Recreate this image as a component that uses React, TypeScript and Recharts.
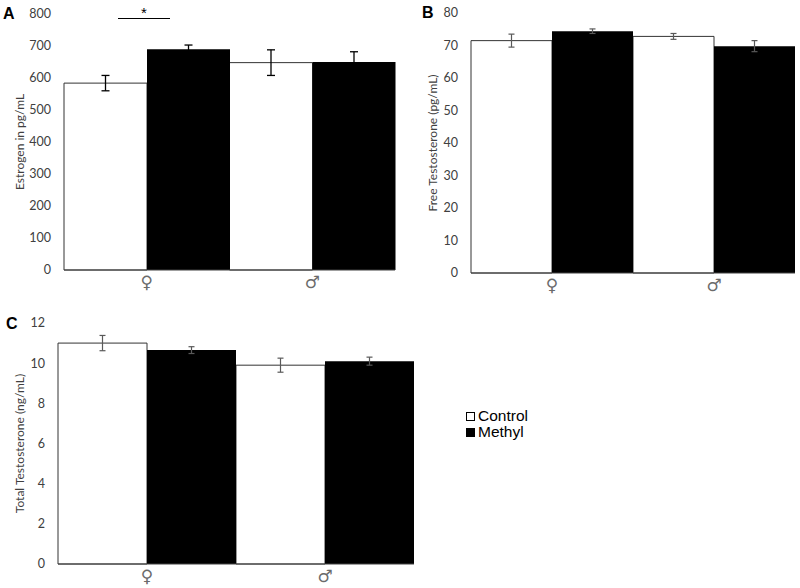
import { BarChart, Bar, XAxis, YAxis, ErrorBar, Legend } from 'recharts'

const sexes = ['♀', '♂']

const estrogenControl = [584, 648]
const estrogenControlErr = [24, 40]
const estrogenMethyl = [690, 650]
const estrogenMethylErr = [13, 32]
const estrogenTicks = [0, 100, 200, 300, 400, 500, 600, 700, 800]

const freeControl = [71.5, 72.8]
const freeControlErr = [2.0, 0.9]
const freeMethyl = [74.4, 69.8]
const freeMethylErr = [0.7, 1.7]
const freeTicks = [0, 10, 20, 30, 40, 50, 60, 70, 80]

const totalControl = [11.0, 9.9]
const totalControlErr = [0.38, 0.35]
const totalMethyl = [10.65, 10.1]
const totalMethylErr = [0.17, 0.2]
const totalTicks = [0, 2, 4, 6, 8, 10, 12]

const rows = (c: number[], ce: number[], m: number[], me: number[]) =>
  sexes.map((sex, i) => ({ sex, control: c[i], controlErr: ce[i], methyl: m[i], methylErr: me[i] }))

const estrogenData = rows(estrogenControl, estrogenControlErr, estrogenMethyl, estrogenMethylErr)
const freeData = rows(freeControl, freeControlErr, freeMethyl, freeMethylErr)
const totalData = rows(totalControl, totalControlErr, totalMethyl, totalMethylErr)

const yTick = { fontSize: 12.5, fill: '#404040', fontFamily: 'Lato' }
const xTick = { fontSize: 17, fill: '#6b6b6b', fontFamily: 'DejaVu Sans' }
const axisTitle = { fontSize: 12, fill: '#404040', fontFamily: 'Lato', textAnchor: 'middle' as const }

const panelLetter = (left: number, top: number): React.CSSProperties => ({
  position: 'absolute', left, top, fontFamily: 'Liberation Sans', fontWeight: 700, fontSize: 16, lineHeight: '16px',
})

function LegendBox(props: any) {
  const items = props.payload || []
  return (
    <div style={{ fontFamily: 'Liberation Sans', fontSize: 15.5, lineHeight: '16px', color: '#000' }}>
      {items.map((entry: any) => (
        <div key={entry.value} style={{ display: 'flex', alignItems: 'center' }}>
          <span style={{
            display: 'inline-block', width: 9, height: 9, boxSizing: 'border-box',
            border: '1px solid #000', background: entry.color, marginRight: 3,
          }} />
          {entry.value}
        </div>
      ))}
    </div>
  )
}

export default function App() {
  return (
    <div style={{ position: 'absolute', left: 0, top: 0, width: 800, height: 588, background: '#fff' }}>
      <div style={{ position: 'absolute', left: 0, top: 0 }}>
        <BarChart width={400} height={300} data={estrogenData} barCategoryGap={0} barGap={0}
          margin={{ top: 14, right: 5, bottom: 10, left: 4 }}>
          <XAxis dataKey="sex" height={20} tick={xTick} tickLine={false} tickMargin={0} axisLine={{ stroke: '#404040' }} />
          <YAxis width={60} domain={[0, 800]} ticks={estrogenTicks} tick={yTick} tickLine={false} axisLine={false}
            tickMargin={7}
            label={{ value: 'Estrogen in pg/mL', angle: -90, position: 'insideLeft', offset: 16, style: axisTitle }} />
          <Bar dataKey="control" fill="#fff" stroke="#333" strokeWidth={1} isAnimationActive={false}>
            <ErrorBar dataKey="controlErr" width={4} stroke="#000" strokeWidth={1.3} direction="y" />
          </Bar>
          <Bar dataKey="methyl" fill="#000" isAnimationActive={false}>
            <ErrorBar dataKey="methylErr" width={4} stroke="#000" strokeWidth={1.3} direction="y" />
          </Bar>
        </BarChart>
      </div>

      <div style={{ position: 'absolute', left: 400, top: 0 }}>
        <BarChart width={400} height={300} data={freeData} barCategoryGap={0} barGap={0}
          margin={{ top: 13, right: 5, bottom: 7, left: 4 }}>
          <XAxis dataKey="sex" height={20} tick={xTick} tickLine={false} tickMargin={0} axisLine={{ stroke: '#404040' }} />
          <YAxis width={67} domain={[0, 80]} ticks={freeTicks} tick={yTick} tickLine={false} axisLine={false}
            tickMargin={7}
            label={{ value: 'Free Testosterone  (pg/mL)', angle: -90, position: 'insideLeft', offset: 29, style: axisTitle }} />
          <Bar dataKey="control" fill="#fff" stroke="#333" strokeWidth={1} isAnimationActive={false}>
            <ErrorBar dataKey="controlErr" width={3} stroke="#595959" strokeWidth={1.2} direction="y" />
          </Bar>
          <Bar dataKey="methyl" fill="#000" isAnimationActive={false}>
            <ErrorBar dataKey="methylErr" width={3} stroke="#595959" strokeWidth={1.2} direction="y" />
          </Bar>
        </BarChart>
      </div>

      <div style={{ position: 'absolute', left: 0, top: 300 }}>
        <BarChart width={600} height={288} data={totalData} barCategoryGap={0} barGap={0}
          margin={{ top: 23, right: 186, bottom: 4, left: 4 }}>
          <XAxis dataKey="sex" height={20} tick={xTick} tickLine={false} tickMargin={0} axisLine={{ stroke: '#404040' }} />
          <YAxis width={54} domain={[0, 12]} ticks={totalTicks} tick={yTick} tickLine={false} axisLine={false}
            tickMargin={7}
            label={{ value: 'Total Testosterone (ng/mL)', angle: -90, position: 'insideLeft', offset: 16, style: axisTitle }} />
          <Legend layout="vertical" align="center" verticalAlign="middle" content={LegendBox}
            wrapperStyle={{ left: 466, top: 108, width: 'auto' }} />
          <Bar dataKey="control" name="Control" fill="#fff" stroke="#333" strokeWidth={1} isAnimationActive={false}>
            <ErrorBar dataKey="controlErr" width={3} stroke="#595959" strokeWidth={1.2} direction="y" />
          </Bar>
          <Bar dataKey="methyl" name="Methyl" fill="#000" isAnimationActive={false}>
            <ErrorBar dataKey="methylErr" width={3} stroke="#595959" strokeWidth={1.2} direction="y" />
          </Bar>
        </BarChart>
      </div>

      <div style={panelLetter(3, 6)}>A</div>
      <div style={panelLetter(422, 5)}>B</div>
      <div style={panelLetter(6, 316)}>C</div>

      <div style={{ position: 'absolute', left: 118, top: 18, width: 52, borderTop: '1.3px solid #000' }} />
      <div style={{ position: 'absolute', left: 141, top: 5, fontFamily: 'Liberation Sans', fontSize: 15, lineHeight: '15px' }}>*</div>
    </div>
  )
}
